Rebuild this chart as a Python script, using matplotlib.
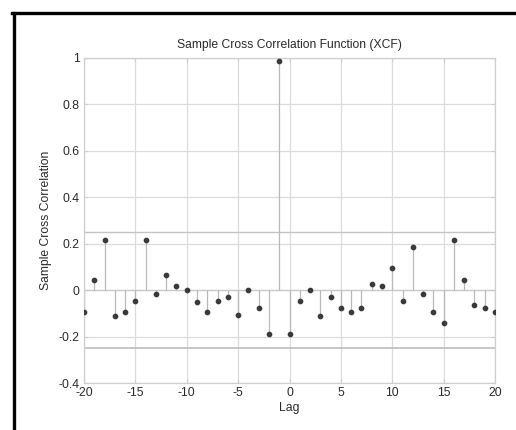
import numpy as np
import matplotlib
matplotlib.use("Agg")
import matplotlib.pyplot as plt
from matplotlib.lines import Line2D

plt.rcParams['font.family'] = ['Liberation Sans', 'DejaVu Sans']
plt.rcParams['axes.unicode_minus'] = False

lags = list(range(-20, 21))
xcf = [-0.096, 0.043, 0.217, -0.111, -0.096, -0.046, 0.217, -0.017, 0.065, 0.017,
       0.0, -0.050, -0.096, -0.047, -0.029, -0.108, 0.0, -0.079, -0.190, 0.986,
       -0.190, -0.046, 0.0, -0.111, -0.029, -0.079, -0.096, -0.079, 0.027, 0.016,
       0.094, -0.046, 0.187, -0.017, -0.096, -0.141, 0.217, 0.043, -0.066, -0.079,
       -0.096]
conf_bound = 0.25

xticks = [-20, -15, -10, -5, 0, 5, 10, 15, 20]
yticks = [-0.4, -0.2, 0, 0.2, 0.4, 0.6, 0.8, 1]
ytick_labels = ['-0.4', '-0.2', '0', '0.2', '0.4', '0.6', '0.8', '1']

text_color = '#2a2a2a'
grid_color = '#dcdcdc'

fig = plt.figure(figsize=(5.16, 4.30), dpi=100)
fig.patch.set_facecolor('white')

# border along the top and left edges of the figure
fig.add_artist(Line2D([13.5 / 516, 13.5 / 516], [0, 1 - 13 / 430],
                      transform=fig.transFigure, color='black', lw=2.4))
fig.add_artist(Line2D([12.3 / 516, 1], [1 - 13 / 430, 1 - 13 / 430],
                      transform=fig.transFigure, color='black', lw=2.4))

ax = fig.add_axes([84 / 516, 1 - 383 / 430, (495 - 84) / 516, (383 - 58) / 430])
ax.set_xlim(-20, 20)
ax.set_ylim(-0.4, 1)

ax.grid(True, color=grid_color, lw=0.9)
ax.set_axisbelow(True)

ax.axhline(0, color='#c8c8c8', lw=0.9, zorder=1)
ax.axhline(conf_bound, color='#c4c4c4', lw=1.0, zorder=1)
ax.axhline(-conf_bound, color='#b8b8b8', lw=1.1, zorder=1)

ax.vlines(lags, 0, xcf, color='#b8b8b8', lw=0.9, zorder=2)
ax.plot(lags, xcf, 'o', color='#3a3a3a', ms=3.1, mec='#3a3a3a', zorder=3)

ax.set_xticks(xticks)
ax.set_yticks(yticks)
ax.set_yticklabels(ytick_labels)
ax.tick_params(direction='in', length=3, color='#cfcfcf', labelcolor=text_color,
               labelsize=8.8, pad=3, top=True, right=True)
for s in ax.spines.values():
    s.set_color('#cfcfcf')
    s.set_linewidth(0.9)

ax.set_title('Sample Cross Correlation Function (XCF)', fontsize=8.7,
             color=text_color, pad=7)
ax.set_xlabel('Lag', fontsize=8.8, color=text_color, labelpad=2)
ax.set_ylabel('Sample Cross Correlation', fontsize=8.7, color=text_color, labelpad=5)

fig.savefig('out.png', dpi=100, facecolor='white')
